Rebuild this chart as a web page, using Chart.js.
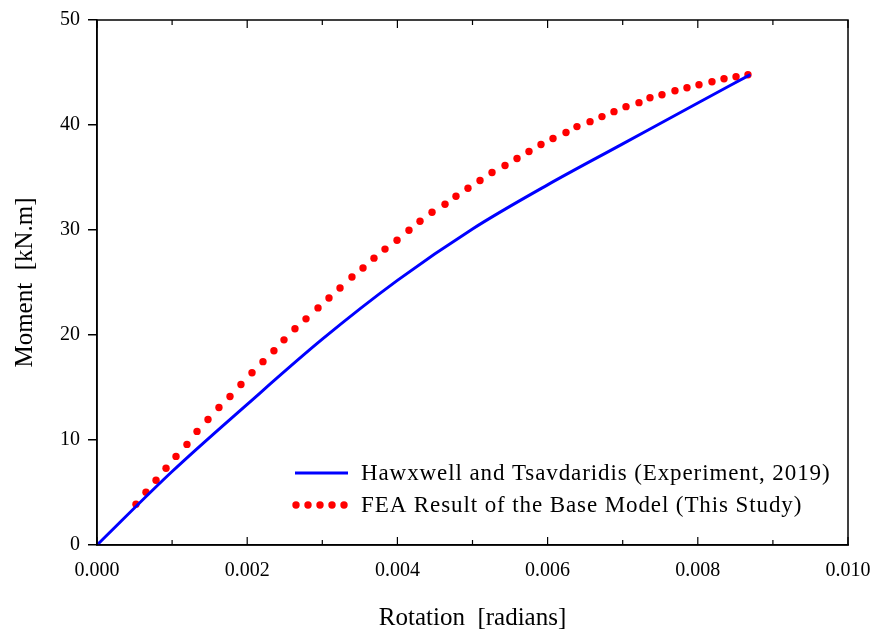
<!DOCTYPE html>
<html>
<head>
<meta charset="utf-8">
<script src="https://cdn.jsdelivr.net/npm/chart.js@4.4.1/dist/chart.umd.min.js"></script>
<style>
  html, body { margin: 0; padding: 0; background: #fff; }
  #wrap { width: 874px; height: 635px; }
</style>
</head>
<body>
<div id="wrap"><canvas id="chart"></canvas></div>
<script>
// ===== Data =====

const seriesNames = [
    'Hawxwell and Tsavdaridis (Experiment, 2019)',
    'FEA Result of the Base Model (This Study)'
];

// experiment curve (rotation in radians, moment in kN.m)
const expRotation = [0, 0.001, 0.002, 0.003, 0.004, 0.005, 0.006, 0.007, 0.008, 0.0087];
const expMoment   = [0, 7.0, 13.4, 19.6, 25.2, 30.1, 34.3, 38.2, 42.1, 44.8];

// FEA points, one per dot
const feaRotation = [
    0.000519, 0.000652, 0.000786, 0.000919, 0.001052, 0.001198, 0.001332, 0.001478, 0.001624, 0.001771,
    0.001917, 0.002064, 0.002210, 0.002356, 0.002490, 0.002636, 0.002783, 0.002943, 0.003089, 0.003236,
    0.003395, 0.003542, 0.003688, 0.003835, 0.003995, 0.004154, 0.004301, 0.004461, 0.004634, 0.004780,
    0.004940, 0.005100, 0.005260, 0.005433, 0.005593, 0.005752, 0.005912, 0.006072, 0.006245, 0.006391,
    0.006565, 0.006724, 0.006884, 0.007044, 0.007217, 0.007363, 0.007523, 0.007696, 0.007856, 0.008016,
    0.008189, 0.008349, 0.008509, 0.008668
];
const feaMoment = [
    3.89, 5.03, 6.17, 7.31, 8.44, 9.58, 10.82, 11.95, 13.09, 14.14,
    15.28, 16.41, 17.46, 18.50, 19.54, 20.59, 21.54, 22.58, 23.53, 24.48,
    25.52, 26.38, 27.32, 28.18, 29.03, 29.98, 30.83, 31.69, 32.45, 33.21,
    33.97, 34.72, 35.48, 36.15, 36.81, 37.48, 38.14, 38.71, 39.28, 39.85,
    40.32, 40.80, 41.27, 41.75, 42.13, 42.60, 42.88, 43.26, 43.55, 43.83,
    44.12, 44.40, 44.59, 44.78
];

const xTicks = [0, 0.002, 0.004, 0.006, 0.008, 0.010];
const yTicks = [0, 10, 20, 30, 40, 50];

const FONT = '"Liberation Serif", "Times New Roman", serif';

// ===== Plugins =====

// frame + inward ticks on top and bottom (every 0.001, longer at labels)
const framePlugin = {
    id: 'frame',
    afterDraw(chart) {
        const {ctx, chartArea: a, scales} = chart;
        ctx.save();
        ctx.strokeStyle = '#000';
        ctx.lineWidth = 1.5;
        ctx.strokeRect(a.left, a.top, a.right - a.left, a.bottom - a.top);
        ctx.lineWidth = 1.2;
        for (let i = 0; i <= 10; i++) {
            const px = scales.x.getPixelForValue(i / 1000);
            const len = i % 2 === 0 ? 8 : 5;
            ctx.beginPath();
            ctx.moveTo(px, a.bottom);
            ctx.lineTo(px, a.bottom - len);
            ctx.moveTo(px, a.top);
            ctx.lineTo(px, a.top + len);
            ctx.stroke();
        }
        ctx.restore();
    }
};

const legendPlugin = {
    id: 'insideLegend',
    afterDraw(chart) {
        const {ctx, chartArea: a} = chart;
        const ds = chart.data.datasets;
        const x0 = a.left + 198;
        const y0 = a.top + 453;
        ctx.save();
        ctx.font = '23px ' + FONT;
        ctx.textBaseline = 'middle';
        ctx.fillStyle = '#000';
        if ('letterSpacing' in ctx) ctx.letterSpacing = '0.9px';

        ctx.strokeStyle = ds[0].borderColor;
        ctx.lineWidth = 3;
        ctx.beginPath();
        ctx.moveTo(x0, y0);
        ctx.lineTo(x0 + 53, y0);
        ctx.stroke();
        ctx.fillText(ds[0].label, x0 + 66, y0 + 1);

        ctx.fillStyle = ds[1].backgroundColor;
        for (let i = 0; i < 5; i++) {
            ctx.beginPath();
            ctx.arc(x0 + 1 + i * 12, y0 + 32, 3.7, 0, Math.PI * 2);
            ctx.fill();
        }
        ctx.fillStyle = '#000';
        ctx.fillText(ds[1].label, x0 + 66, y0 + 33);
        ctx.restore();
    }
};

// ===== Chart =====

const data = {
    datasets: [{
        label: seriesNames[0],
        data: expRotation.map((x, i) => ({x: x, y: expMoment[i]})),
        borderColor: 'rgb(0, 0, 255)',
        backgroundColor: 'rgb(0, 0, 255)',
        borderWidth: 3,
        showLine: true,
        pointRadius: 0,
        cubicInterpolationMode: 'monotone'
    }, {
        label: seriesNames[1],
        data: feaRotation.map((x, i) => ({x: x, y: feaMoment[i]})),
        borderColor: 'rgb(255, 0, 0)',
        backgroundColor: 'rgb(255, 0, 0)',
        showLine: false,
        pointRadius: 3.7,
        pointBorderWidth: 0
    }]
};

const options = {
    responsive: true,
    maintainAspectRatio: false,
    animation: false,
    layout: { padding: { left: 0, top: 18, right: 26, bottom: 0 } },
    plugins: {
        legend: { display: false },
        tooltip: { enabled: false }
    },
    scales: {
        x: {
            type: 'linear',
            min: 0,
            max: 0.010,
            afterFit: (s) => { s.height = 90; s.paddingRight = 0; s.paddingLeft = 0; },
            afterBuildTicks: (s) => { s.ticks = xTicks.map(v => ({value: v})); },
            grid: { drawOnChartArea: false, drawTicks: false },
            border: { color: '#000', width: 1.5 },
            ticks: {
                color: '#000',
                padding: 14,
                maxRotation: 0,
                font: { family: FONT, size: 20 },
                callback: (v) => v.toFixed(3)
            },
            title: {
                display: true,
                text: 'Rotation  [radians]',
                color: '#000',
                font: { family: FONT, size: 25 },
                padding: { top: 0, bottom: 2 }
            }
        },
        y: {
            min: 0,
            max: 50,
            afterFit: (s) => { s.width = 97; },
            afterBuildTicks: (s) => { s.ticks = yTicks.map(v => ({value: v})); },
            grid: { drawOnChartArea: false, color: '#000', tickLength: 9, lineWidth: 1.5 },
            border: { color: '#000', width: 1.5 },
            ticks: {
                color: '#000',
                padding: 8,
                font: { family: FONT, size: 20 }
            },
            title: {
                display: true,
                text: 'Moment  [kN.m]',
                color: '#000',
                font: { family: FONT, size: 25 },
                padding: { top: 10, bottom: 0 }
            }
        }
    }
};

new Chart(document.getElementById('chart'), {
    type: 'scatter',
    data: data,
    options: options,
    plugins: [framePlugin, legendPlugin]
});
</script>
</body>
</html>
